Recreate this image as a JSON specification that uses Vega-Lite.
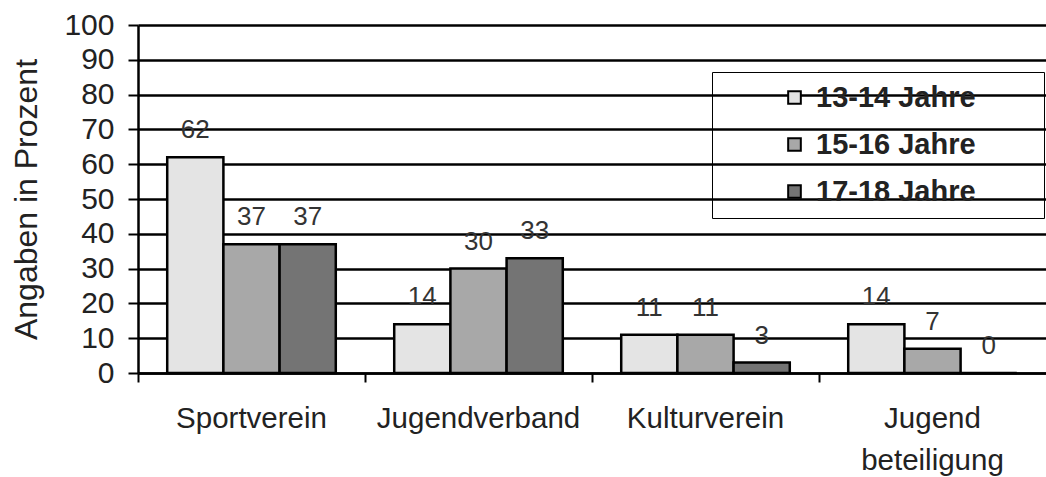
{
  "$schema": "https://vega.github.io/schema/vega-lite/v6.json",
  "autosize": {"type": "none"},
  "padding": {"left": 138, "top": 25, "right": 0, "bottom": 104},
  "width": 908,
  "height": 348,
  "background": "white",
  "config": {
    "font": "Liberation Sans",
    "view": {"stroke": null}
  },
  "data": {
    "values": [
      {"Kategorie": "Sportverein", "Gruppe": "13-14 Jahre", "Wert": 62},
      {"Kategorie": "Sportverein", "Gruppe": "15-16 Jahre", "Wert": 37},
      {"Kategorie": "Sportverein", "Gruppe": "17-18 Jahre", "Wert": 37},
      {"Kategorie": "Jugendverband", "Gruppe": "13-14 Jahre", "Wert": 14},
      {"Kategorie": "Jugendverband", "Gruppe": "15-16 Jahre", "Wert": 30},
      {"Kategorie": "Jugendverband", "Gruppe": "17-18 Jahre", "Wert": 33},
      {"Kategorie": "Kulturverein", "Gruppe": "13-14 Jahre", "Wert": 11},
      {"Kategorie": "Kulturverein", "Gruppe": "15-16 Jahre", "Wert": 11},
      {"Kategorie": "Kulturverein", "Gruppe": "17-18 Jahre", "Wert": 3},
      {"Kategorie": "Jugend beteiligung", "Gruppe": "13-14 Jahre", "Wert": 14},
      {"Kategorie": "Jugend beteiligung", "Gruppe": "15-16 Jahre", "Wert": 7},
      {"Kategorie": "Jugend beteiligung", "Gruppe": "17-18 Jahre", "Wert": 0}
    ]
  },
  "encoding": {
    "x": {
      "field": "Kategorie",
      "type": "nominal",
      "sort": null,
      "scale": {"paddingInner": 0, "paddingOuter": 0},
      "axis": {
        "title": null,
        "labelAngle": 0,
        "labelFontSize": 29.5,
        "labelColor": "#222",
        "labelPadding": 22,
        "labelLineHeight": 42,
        "labelBaseline": "top",
        "labelLimit": 400,
        "labelExpr": "datum.value == 'Jugend beteiligung' ? ['Jugend', 'beteiligung'] : datum.label",
        "domainColor": "black",
        "domainWidth": 2.5,
        "ticks": true,
        "bandPosition": 0,
        "tickColor": "black",
        "tickWidth": 2,
        "tickSize": 9,
        "grid": false
      }
    },
    "xOffset": {
      "field": "Gruppe",
      "type": "nominal",
      "scale": {"paddingInner": 0, "paddingOuter": 0.52}
    },
    "y": {
      "field": "Wert",
      "type": "quantitative",
      "scale": {"domain": [0, 100]},
      "axis": {
        "title": "Angaben in Prozent",
        "titleFontSize": 32,
        "titleFontWeight": "normal",
        "titleColor": "#222",
        "titlePadding": 20,
        "values": [0, 10, 20, 30, 40, 50, 60, 70, 80, 90, 100],
        "labelFontSize": 30,
        "labelColor": "#222",
        "labelPadding": 14,
        "domainColor": "black",
        "domainWidth": 2.5,
        "tickColor": "black",
        "tickWidth": 2,
        "tickSize": 10,
        "grid": true,
        "gridColor": "black",
        "gridWidth": 2.5,
        "gridOpacity": 1
      }
    }
  },
  "layer": [
    {
      "mark": {"type": "bar", "stroke": "black", "strokeWidth": 2.5},
      "encoding": {
        "color": {
          "field": "Gruppe",
          "type": "nominal",
          "scale": {"range": ["#e4e4e4", "#a8a8a8", "#747474"]},
          "legend": {
            "orient": "none",
            "legendX": 574,
            "legendY": 47,
            "title": null,
            "strokeColor": "black",
            "padding": 11,
            "symbolType": "square",
            "symbolSize": 160,
            "symbolStrokeColor": "black",
            "symbolStrokeWidth": 2,
            "symbolOffset": 57,
            "labelFontSize": 29,
            "labelFontWeight": "bold",
            "labelColor": "#222",
            "labelOffset": 7,
            "labelLimit": 500,
            "rowPadding": 17,
            "labelExpr": "datum.label + '\u00a0\u00a0\u00a0\u00a0\u00a0\u00a0\u00a0\u200b'"
          }
        }
      }
    },
    {
      "mark": {"type": "text", "baseline": "alphabetic", "dy": -19, "fontSize": 26, "color": "#333"},
      "encoding": {
        "text": {"field": "Wert", "type": "quantitative"}
      }
    }
  ]
}
